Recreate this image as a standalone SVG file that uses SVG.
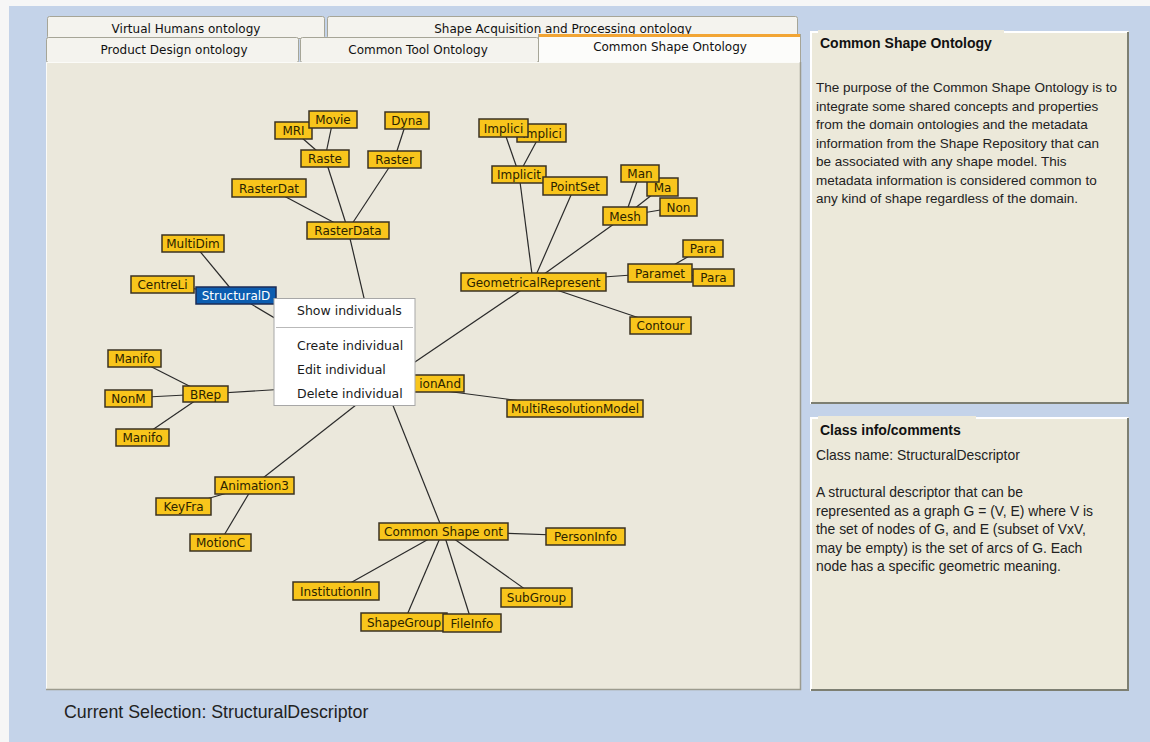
<svg xmlns="http://www.w3.org/2000/svg" width="1150" height="742" viewBox="0 0 1150 742">
  <style>
    .tab { fill: #f4f3ee; stroke: #a6a597; stroke-width: 1; }
    .tabtxt { font-family: "DejaVu Sans", sans-serif; font-size: 12px; fill: #111; text-anchor: middle; }
    .node rect { fill: #f8c51c; stroke: #3b3222; stroke-width: 1.5; }
    .node text { font-family: "DejaVu Sans", sans-serif; font-size: 12px; fill: #2b2300; text-anchor: middle; }
    .sel rect { fill: #0c5db0; stroke: #1b2b55; stroke-width: 1.5; }
    .sel text { fill: #ffffff; }
    .edges line { stroke: #2a2a2a; stroke-width: 1.2; }
    .panel { fill: #ece9da; }
    .ptitle { font-family: "Liberation Sans", Arial, sans-serif; font-size: 14px; font-weight: bold; fill: #111; }
    .ptext { font-family: "Liberation Sans", Arial, sans-serif; font-size: 13.5px; fill: #222; }
    .ptext2 { font-family: "Liberation Sans", Arial, sans-serif; font-size: 13.9px; fill: #222; }
    .menutxt { font-family: "DejaVu Sans", sans-serif; font-size: 12.5px; fill: #1a1a1a; }
  </style>

  <!-- window background -->
  <rect x="0" y="0" width="1150" height="742" fill="#f6f6f6"/>
  <rect x="9" y="6" width="1141" height="736" fill="#c4d3e9"/>

  <!-- tab strip -->
  <g id="tabs">
    <rect class="tab" x="47.5" y="16.5" width="277" height="22" rx="2"/>
    <text class="tabtxt" x="186" y="33">Virtual Humans ontology</text>
    <rect class="tab" x="327.5" y="16.5" width="470" height="22" rx="2"/>
    <text class="tabtxt" x="563" y="33">Shape Acquisition and Processing ontology</text>
    <rect class="tab" x="46.5" y="37.5" width="252" height="25" rx="2"/>
    <text class="tabtxt" x="174" y="54">Product Design ontology</text>
    <rect class="tab" x="300.5" y="37.5" width="238" height="25" rx="2"/>
    <text class="tabtxt" x="418" y="54">Common Tool Ontology</text>
    <rect x="538.5" y="34.5" width="262" height="28" fill="#fcfcfa" stroke="#a6a597"/>
    <rect x="539" y="34" width="261" height="3" fill="#f2a534"/>
    <text class="tabtxt" x="670" y="51">Common Shape Ontology</text>
  </g>

  <!-- graph canvas -->
  <rect x="46" y="62" width="755" height="628" fill="#ebe8dc"/>
  <path d="M46.5 690 V62.5 H800.5" fill="none" stroke="#fbfbf8" stroke-width="1"/>
  <path d="M46 689.5 H800.5 V62" fill="none" stroke="#9c9b8e" stroke-width="1.5"/>

  <!-- right-hand panels -->
  <g id="panel-ontology">
    <rect class="panel" x="810" y="31" width="319" height="373"/>
    <path d="M811 404 V32 H1128" fill="none" stroke="#ffffff" stroke-width="2"/>
    <path d="M811 403 H1128 V32" fill="none" stroke="#7d7f72" stroke-width="2"/>
    <rect x="818" y="30" width="186" height="6" fill="#ece9da"/>
    <text class="ptitle" x="820" y="48">Common Shape Ontology</text>
    <text class="ptext">
      <tspan x="816" y="92">The purpose of the Common Shape Ontology is to</tspan>
      <tspan x="816" y="110.5">integrate some shared concepts and properties</tspan>
      <tspan x="816" y="129">from the domain ontologies and the metadata</tspan>
      <tspan x="816" y="147.5">information from the Shape Repository that can</tspan>
      <tspan x="816" y="166">be associated with any shape model. This</tspan>
      <tspan x="816" y="184.5">metadata information is considered common to</tspan>
      <tspan x="816" y="203">any kind of shape regardless of the domain.</tspan>
    </text>
  </g>
  <g id="panel-class">
    <rect class="panel" x="810" y="417" width="319" height="274"/>
    <path d="M811 691 V418 H1128" fill="none" stroke="#ffffff" stroke-width="2"/>
    <path d="M811 690 H1128 V418" fill="none" stroke="#7d7f72" stroke-width="2"/>
    <rect x="818" y="416" width="158" height="6" fill="#ece9da"/>
    <text class="ptitle" x="820" y="435">Class info/comments</text>
    <text class="ptext2">
      <tspan x="816" y="460">Class name: StructuralDescriptor</tspan>
      <tspan x="816" y="497">A structural descriptor that can be</tspan>
      <tspan x="816" y="515.5">represented as a graph G = (V, E) where V is</tspan>
      <tspan x="816" y="534">the set of nodes of G, and E (subset of VxV,</tspan>
      <tspan x="816" y="552.5">may be empty) is the set of arcs of G. Each</tspan>
      <tspan x="816" y="571">node has a specific geometric meaning.</tspan>
    </text>
  </g>

  <text x="64" y="718" font-family="Liberation Sans, Arial, sans-serif" font-size="17.8" fill="#222">Current Selection: StructuralDescriptor</text>

  <!-- connectors: centre to centre, drawn under the nodes -->
  <g id="connectors" class="edges">
    <line x1="293" y1="130" x2="325" y2="158"/>
    <line x1="333" y1="120" x2="325" y2="158"/>
    <line x1="407" y1="120" x2="394" y2="160"/>
    <line x1="325" y1="158" x2="348" y2="230"/>
    <line x1="394" y1="160" x2="348" y2="230"/>
    <line x1="269" y1="188" x2="348" y2="230"/>
    <line x1="348" y1="230" x2="384" y2="383"/>
    <line x1="193" y1="243" x2="236" y2="295"/>
    <line x1="162" y1="284" x2="236" y2="295"/>
    <line x1="236" y1="295" x2="384" y2="383"/>
    <line x1="134" y1="358" x2="205" y2="394"/>
    <line x1="128" y1="398" x2="205" y2="394"/>
    <line x1="142" y1="437" x2="205" y2="394"/>
    <line x1="205" y1="394" x2="384" y2="383"/>
    <line x1="254" y1="485" x2="384" y2="383"/>
    <line x1="183" y1="506" x2="254" y2="485"/>
    <line x1="220" y1="542" x2="254" y2="485"/>
    <line x1="443" y1="531" x2="384" y2="383"/>
    <line x1="443" y1="531" x2="336" y2="591"/>
    <line x1="443" y1="531" x2="404" y2="622"/>
    <line x1="443" y1="531" x2="472" y2="623"/>
    <line x1="443" y1="531" x2="536" y2="597"/>
    <line x1="443" y1="531" x2="585" y2="536"/>
    <line x1="384" y1="383" x2="575" y2="408"/>
    <line x1="384" y1="383" x2="533" y2="282"/>
    <line x1="533" y1="282" x2="660" y2="325"/>
    <line x1="533" y1="282" x2="660" y2="273"/>
    <line x1="703" y1="248" x2="660" y2="273"/>
    <line x1="713" y1="277" x2="660" y2="273"/>
    <line x1="533" y1="282" x2="625" y2="216"/>
    <line x1="640" y1="173" x2="625" y2="216"/>
    <line x1="662" y1="187" x2="625" y2="216"/>
    <line x1="678" y1="207" x2="625" y2="216"/>
    <line x1="533" y1="282" x2="519" y2="174"/>
    <line x1="533" y1="282" x2="575" y2="186"/>
    <line x1="503" y1="128" x2="519" y2="174"/>
    <line x1="541" y1="133" x2="519" y2="174"/>
  </g>

  <!-- class nodes -->
  <g id="n-mri" class="node"><rect x="275" y="122" width="37" height="17"/><text x="293.5" y="135">MRI</text></g>
  <g id="n-movie" class="node"><rect x="309" y="111" width="48" height="17"/><text x="333" y="124">Movie</text></g>
  <g id="n-raste" class="node"><rect x="301" y="150" width="48" height="17"/><text x="325" y="163">Raste</text></g>
  <g id="n-dyna" class="node"><rect x="385" y="112" width="44" height="17"/><text x="407" y="125">Dyna</text></g>
  <g id="n-raster" class="node"><rect x="368" y="151" width="53" height="17"/><text x="394.5" y="164">Raster</text></g>
  <g id="n-rasterdat" class="node"><rect x="232" y="179" width="74" height="18"/><text x="269" y="192.5">RasterDat</text></g>
  <g id="n-rasterdata" class="node"><rect x="307" y="222" width="82" height="17"/><text x="348" y="235">RasterData</text></g>
  <g id="n-multidim" class="node"><rect x="162" y="235" width="62" height="17"/><text x="193" y="248">MultiDim</text></g>
  <g id="n-centreli" class="node"><rect x="131" y="276" width="63" height="17"/><text x="162.5" y="289">CentreLi</text></g>
  <g id="n-structurald" class="node sel"><rect x="196" y="287" width="80" height="17"/><text x="236" y="300">StructuralD</text></g>

  <g id="n-implici-b" class="node"><rect x="517" y="124" width="49" height="18"/><text x="542" y="137.5">Implici</text></g>
  <g id="n-implici-a" class="node"><rect x="479" y="119" width="49" height="18"/><text x="503.5" y="132.5">Implici</text></g>
  <g id="n-implicit" class="node"><rect x="492" y="166" width="54" height="17"/><text x="519" y="179">Implicit</text></g>
  <g id="n-pointset" class="node"><rect x="543" y="177" width="64" height="18"/><text x="575" y="190.5">PointSet</text></g>
  <g id="n-ma" class="node"><rect x="647" y="178" width="31" height="18"/><text x="662.5" y="191.5">Ma</text></g>
  <g id="n-man" class="node"><rect x="621" y="165" width="38" height="17"/><text x="640" y="178">Man</text></g>
  <g id="n-non" class="node"><rect x="660" y="198" width="37" height="18"/><text x="678.5" y="211.5">Non</text></g>
  <g id="n-mesh" class="node"><rect x="603" y="207" width="44" height="18"/><text x="625" y="220.5">Mesh</text></g>
  <g id="n-para-a" class="node"><rect x="683" y="240" width="40" height="17"/><text x="703" y="253">Para</text></g>
  <g id="n-paramet" class="node"><rect x="628" y="264" width="64" height="18"/><text x="660" y="277.5">Paramet</text></g>
  <g id="n-para-b" class="node"><rect x="693" y="269" width="41" height="17"/><text x="713.5" y="282">Para</text></g>
  <g id="n-geometrical" class="node"><rect x="461" y="273" width="145" height="18"/><text x="533.5" y="286.5">GeometricalRepresent</text></g>
  <g id="n-contour" class="node"><rect x="630" y="317" width="61" height="17"/><text x="660.5" y="330">Contour</text></g>

  <g id="n-root" class="node"><rect x="304" y="375" width="160" height="17"/><text x="461" y="388" style="text-anchor:end">ionAnd</text></g>
  <g id="n-multires" class="node"><rect x="507" y="400" width="136" height="17"/><text x="575" y="413">MultiResolutionModel</text></g>

  <g id="n-manifo-a" class="node"><rect x="108" y="350" width="53" height="17"/><text x="134.5" y="363">Manifo</text></g>
  <g id="n-nonm" class="node"><rect x="105" y="390" width="47" height="17"/><text x="128.5" y="403">NonM</text></g>
  <g id="n-brep" class="node"><rect x="183" y="386" width="45" height="16"/><text x="205.5" y="398.5">BRep</text></g>
  <g id="n-manifo-b" class="node"><rect x="116" y="429" width="53" height="17"/><text x="142.5" y="442">Manifo</text></g>

  <g id="n-animation" class="node"><rect x="215" y="477" width="79" height="17"/><text x="254.5" y="490">Animation3</text></g>
  <g id="n-keyfra" class="node"><rect x="156" y="498" width="55" height="17"/><text x="183.5" y="511">KeyFra</text></g>
  <g id="n-motionc" class="node"><rect x="190" y="534" width="61" height="17"/><text x="220.5" y="547">MotionC</text></g>

  <g id="n-common" class="node"><rect x="379" y="523" width="129" height="17"/><text x="443.5" y="536">Common Shape ont</text></g>
  <g id="n-person" class="node"><rect x="546" y="528" width="79" height="17"/><text x="585.5" y="541">PersonInfo</text></g>
  <g id="n-institution" class="node"><rect x="293" y="582" width="86" height="18"/><text x="336" y="595.5">InstitutionIn</text></g>
  <g id="n-subgroup" class="node"><rect x="501" y="588" width="71" height="19"/><text x="536.5" y="602">SubGroup</text></g>
  <g id="n-shapegroup" class="node"><rect x="361" y="613" width="86" height="18"/><text x="404" y="626.5">ShapeGroup</text></g>
  <g id="n-fileinfo" class="node"><rect x="443" y="614" width="58" height="18"/><text x="472" y="627.5">FileInfo</text></g>

  <!-- context menu over the graph -->
  <g id="context-menu">
    <rect x="274" y="298.5" width="141" height="107" fill="#ffffff" stroke="#a7a7a7" stroke-width="1"/>
    <line x1="276" y1="327.5" x2="413" y2="327.5" stroke="#b9b9b9" stroke-width="1"/>
    <text class="menutxt" x="297" y="315">Show individuals</text>
    <text class="menutxt" x="297" y="350">Create individual</text>
    <text class="menutxt" x="297" y="373.5">Edit individual</text>
    <text class="menutxt" x="297" y="397.5">Delete individual</text>
  </g>
</svg>
